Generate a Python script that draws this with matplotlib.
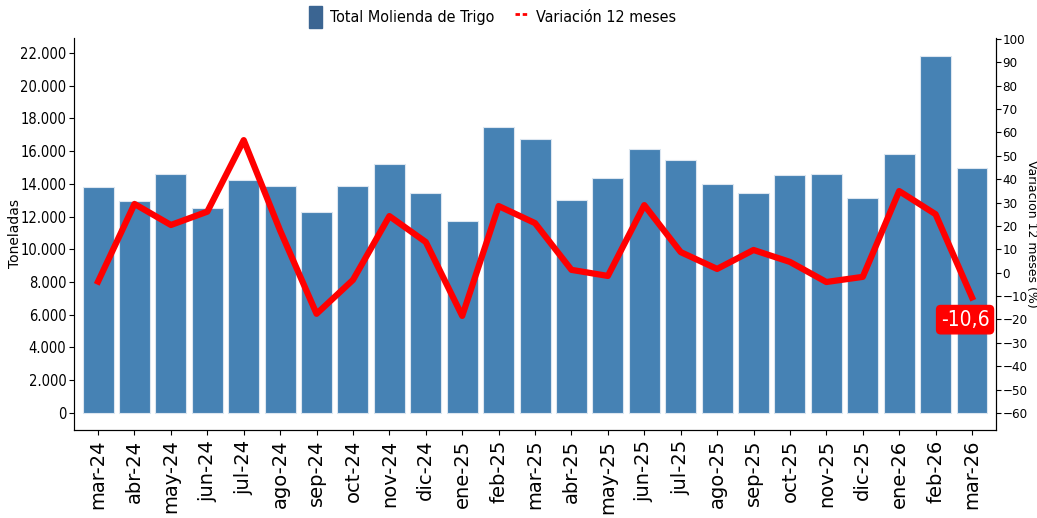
import matplotlib
matplotlib.use('Agg')
import matplotlib.pyplot as plt
import matplotlib.ticker as mticker
from matplotlib.patches import Patch
from matplotlib.lines import Line2D
from matplotlib import font_manager

meses = ['mar-24', 'abr-24', 'may-24', 'jun-24', 'jul-24', 'ago-24', 'sep-24', 'oct-24',
         'nov-24', 'dic-24', 'ene-25', 'feb-25', 'mar-25', 'abr-25', 'may-25', 'jun-25',
         'jul-25', 'ago-25', 'sep-25', 'oct-25', 'nov-25', 'dic-25', 'ene-26', 'feb-26', 'mar-26']
molienda = [13830, 12980, 14630, 12530, 14260, 13870, 12290, 13880, 15220, 13450, 11740,
            17480, 16750, 13020, 14360, 16140, 15460, 14000, 13450, 14550, 14610, 13140,
            15830, 21820, 14990]
variacion = [-3.8, 29.4, 20.4, 26.1, 56.7, 18.0, -17.6, -3.1, 24.2, 13.1, -18.5, 28.5,
             21.2, 1.2, -1.4, 28.9, 8.8, 1.6, 9.7, 4.6, -4.0, -1.8, 34.9, 25.0, -10.6]


def cond(size):
    return font_manager.FontProperties(family='DejaVu Sans', stretch='condensed', size=size)


fig = plt.figure(figsize=(10.37, 5.18), dpi=100)
ax = fig.add_axes([0.0714, 0.17, 0.8891, 0.7566])
x = range(len(meses))
ax.bar(x, molienda, width=0.85, color='#4682B4', edgecolor='#dce6f0', linewidth=0.8)
ax.set_xlim(-0.66, len(meses) - 0.34)
ax.set_ylim(-1040, 22920)
ax.set_yticks(range(0, 22001, 2000))
ax.yaxis.set_major_formatter(mticker.FuncFormatter(lambda v, p: f'{int(v):,}'.replace(',', '.')))
ax.set_xticks(list(x))
ax.set_xticklabels(meses, rotation=90, fontsize=14)
for t in ax.get_yticklabels():
    t.set_fontproperties(cond(10.5))
ax.tick_params(axis='y', pad=2)
ax.set_ylabel('Toneladas', fontsize=10)
ax.yaxis.set_label_coords(-0.0564, 0.5)
ax.spines['top'].set_visible(False)
ax.spines['left'].set_color('#555555')

ax2 = ax.twinx()
ax2.plot(x, variacion, color='red', linewidth=4.5)
ax2.set_ylim(-67.3, 100.4)
ax2.set_yticks(range(-60, 101, 10))
for t in ax2.get_yticklabels():
    t.set_fontproperties(cond(9.5))
ax2.tick_params(axis='y', pad=1, length=3.5)
ax2.set_ylabel('Variación 12 meses (%)', fontsize=9, rotation=270, va='center')
ax2.yaxis.set_label_coords(1.0385, 0.5)
ax2.spines['top'].set_visible(False)

ult = len(meses) - 1
ax2.annotate(f'{variacion[-1]:.1f}'.replace('.', ','), xy=(ult, variacion[-1]),
             xytext=(-5, -16), textcoords='offset points', ha='center', va='center',
             fontproperties=cond(15), color='white',
             bbox=dict(boxstyle='round,pad=0.2', facecolor='red', edgecolor='red'))

handles = [Patch(facecolor='#3b6592', edgecolor='#3b6592'),
           Line2D([0], [0], color='red', linestyle=(0, (1.6, 1.0)), linewidth=2)]
fig.legend(handles, ['Total Molienda de Trigo', 'Variación 12 meses'], loc='upper center',
           bbox_to_anchor=(0.475, 1.016), ncol=2, frameon=False, prop=cond(11.5),
           handlelength=0.8, handleheight=1.7, columnspacing=1.3, handletextpad=0.5)

fig.savefig('out.png', dpi=100)
